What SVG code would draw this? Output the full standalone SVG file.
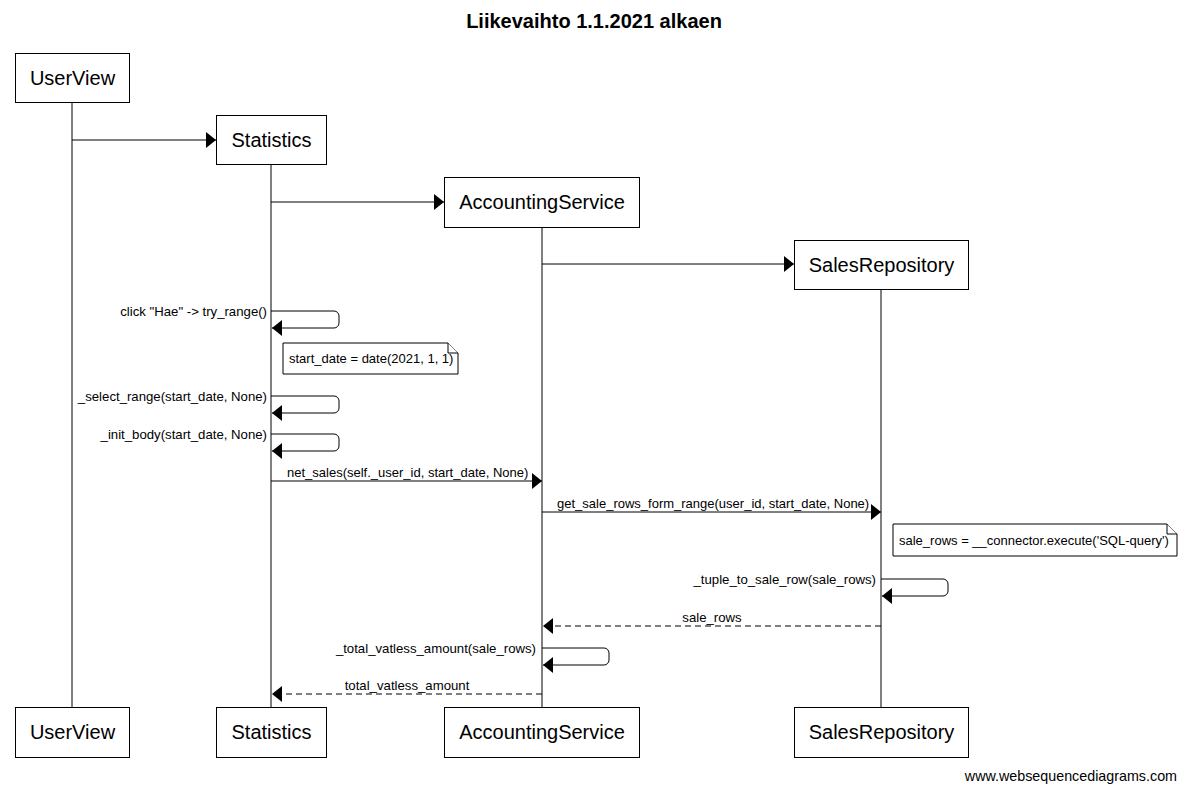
<svg xmlns="http://www.w3.org/2000/svg" width="1186" height="792" viewBox="0 0 1186 792">
<defs>
<marker id="ah" viewBox="0 0 10 16" refX="10" refY="8" markerWidth="10" markerHeight="16" markerUnits="userSpaceOnUse" orient="auto">
<path d="M0,0 L10,8 L0,16 Z" fill="#000"/>
</marker>
</defs>
<style>
text{font-family:"Liberation Sans",Arial,sans-serif;fill:#000}
.box{fill:#fff;stroke:#000;stroke-width:1}
.bl{font-size:20px;text-anchor:middle}
.life{stroke:#000;stroke-width:1}
.msg{fill:none;stroke:#000;stroke-width:1;marker-end:url(#ah)}
.ret{fill:none;stroke:#000;stroke-width:1;stroke-dasharray:6,4;marker-end:url(#ah)}
.ml{font-size:13.2px}
.ms{font-size:13px}
.r{text-anchor:end}
.c{text-anchor:middle}
.note{fill:#fff;stroke:#000;stroke-width:1}
</style>
<rect width="1186" height="792" fill="#fff"/>
<text x="594" y="28" font-size="20" font-weight="bold" text-anchor="middle">Liikevaihto 1.1.2021 alkaen</text>
<g id="lifelines">
<line class="life" x1="72" y1="102" x2="72" y2="707"/>
<line class="life" x1="271" y1="164" x2="271" y2="707"/>
<line class="life" x1="542" y1="228" x2="542" y2="707"/>
<line class="life" x1="881" y1="289" x2="881" y2="707"/>
</g>
<g id="connectors">
<line class="msg" x1="72" y1="140" x2="216" y2="140"/>
<line class="msg" x1="271" y1="202" x2="444" y2="202"/>
<line class="msg" x1="542" y1="264" x2="794" y2="264"/>
<path class="msg" d="M271,311 H334 A5,5 0 0 1 339,316 V323 A5,5 0 0 1 334,328 H272"/>
<text class="ml r" x="267" y="316">click "Hae" -&gt; try_range()</text>
<path class="msg" d="M271,396 H334 A5,5 0 0 1 339,401 V408 A5,5 0 0 1 334,413 H272"/>
<text class="ml r" x="267" y="401">_select_range(start_date, None)</text>
<path class="msg" d="M271,434 H334 A5,5 0 0 1 339,439 V446 A5,5 0 0 1 334,451 H272"/>
<text class="ml r" x="267" y="439">_init_body(start_date, None)</text>
<line class="msg" x1="271" y1="481" x2="542" y2="481"/>
<text class="ms" x="287" y="477">net_sales(self._user_id, start_date, None)</text>
<line class="msg" x1="542" y1="512" x2="881" y2="512"/>
<text class="ms" x="557" y="508">get_sale_rows_form_range(user_id, start_date, None)</text>
<path class="msg" d="M881,579 H943 A5,5 0 0 1 948,584 V591 A5,5 0 0 1 943,596 H882"/>
<text class="ml r" x="876" y="584">_tuple_to_sale_row(sale_rows)</text>
<line class="ret" x1="881" y1="626" x2="543" y2="626"/>
<text class="ml c" x="712" y="622">sale_rows</text>
<path class="msg" d="M542,648 H604 A5,5 0 0 1 609,653 V660 A5,5 0 0 1 604,665 H543"/>
<text class="ml r" x="536" y="653">_total_vatless_amount(sale_rows)</text>
<line class="ret" x1="542" y1="694" x2="272" y2="694"/>
<text class="ml c" x="407" y="690">total_vatless_amount</text>
</g>
<g id="note1">
<path class="note" d="M283,343 H448 L458,353 V374 H283 Z"/>
<path class="note" d="M448,343 V353 H458" fill="none"/>
<text class="ms" x="289" y="363">start_date = date(2021, 1, 1)</text>
</g>
<g id="note2">
<path class="note" d="M893,524 H1167 L1177,534 V556 H893 Z"/>
<path class="note" d="M1167,524 V534 H1177" fill="none"/>
<text class="ms" x="899" y="545">sale_rows = __connector.execute('SQL-query')</text>
</g>
<g id="UserView">
<rect class="box" x="15.5" y="53.5" width="114" height="49"/>
<text class="bl" x="72.5" y="85">UserView</text>
</g>
<g id="Statistics">
<rect class="box" x="216.5" y="115.5" width="110" height="49"/>
<text class="bl" x="271.5" y="147">Statistics</text>
</g>
<g id="AccountingService">
<rect class="box" x="444.5" y="177.5" width="195" height="50"/>
<text class="bl" x="542" y="209">AccountingService</text>
</g>
<g id="SalesRepository">
<rect class="box" x="794.5" y="240.5" width="174" height="49"/>
<text class="bl" x="881.5" y="272">SalesRepository</text>
</g>
<g id="UserView_bottom">
<rect class="box" x="15.5" y="707.5" width="114" height="50"/>
<text class="bl" x="72.5" y="739">UserView</text>
</g>
<g id="Statistics_bottom">
<rect class="box" x="216.5" y="707.5" width="110" height="50"/>
<text class="bl" x="271.5" y="739">Statistics</text>
</g>
<g id="AccountingService_bottom">
<rect class="box" x="444.5" y="707.5" width="195" height="50"/>
<text class="bl" x="542" y="739">AccountingService</text>
</g>
<g id="SalesRepository_bottom">
<rect class="box" x="794.5" y="707.5" width="174" height="50"/>
<text class="bl" x="881.5" y="739">SalesRepository</text>
</g>
<text x="1177" y="781" font-size="14.3" text-anchor="end">www.websequencediagrams.com</text>
</svg>
